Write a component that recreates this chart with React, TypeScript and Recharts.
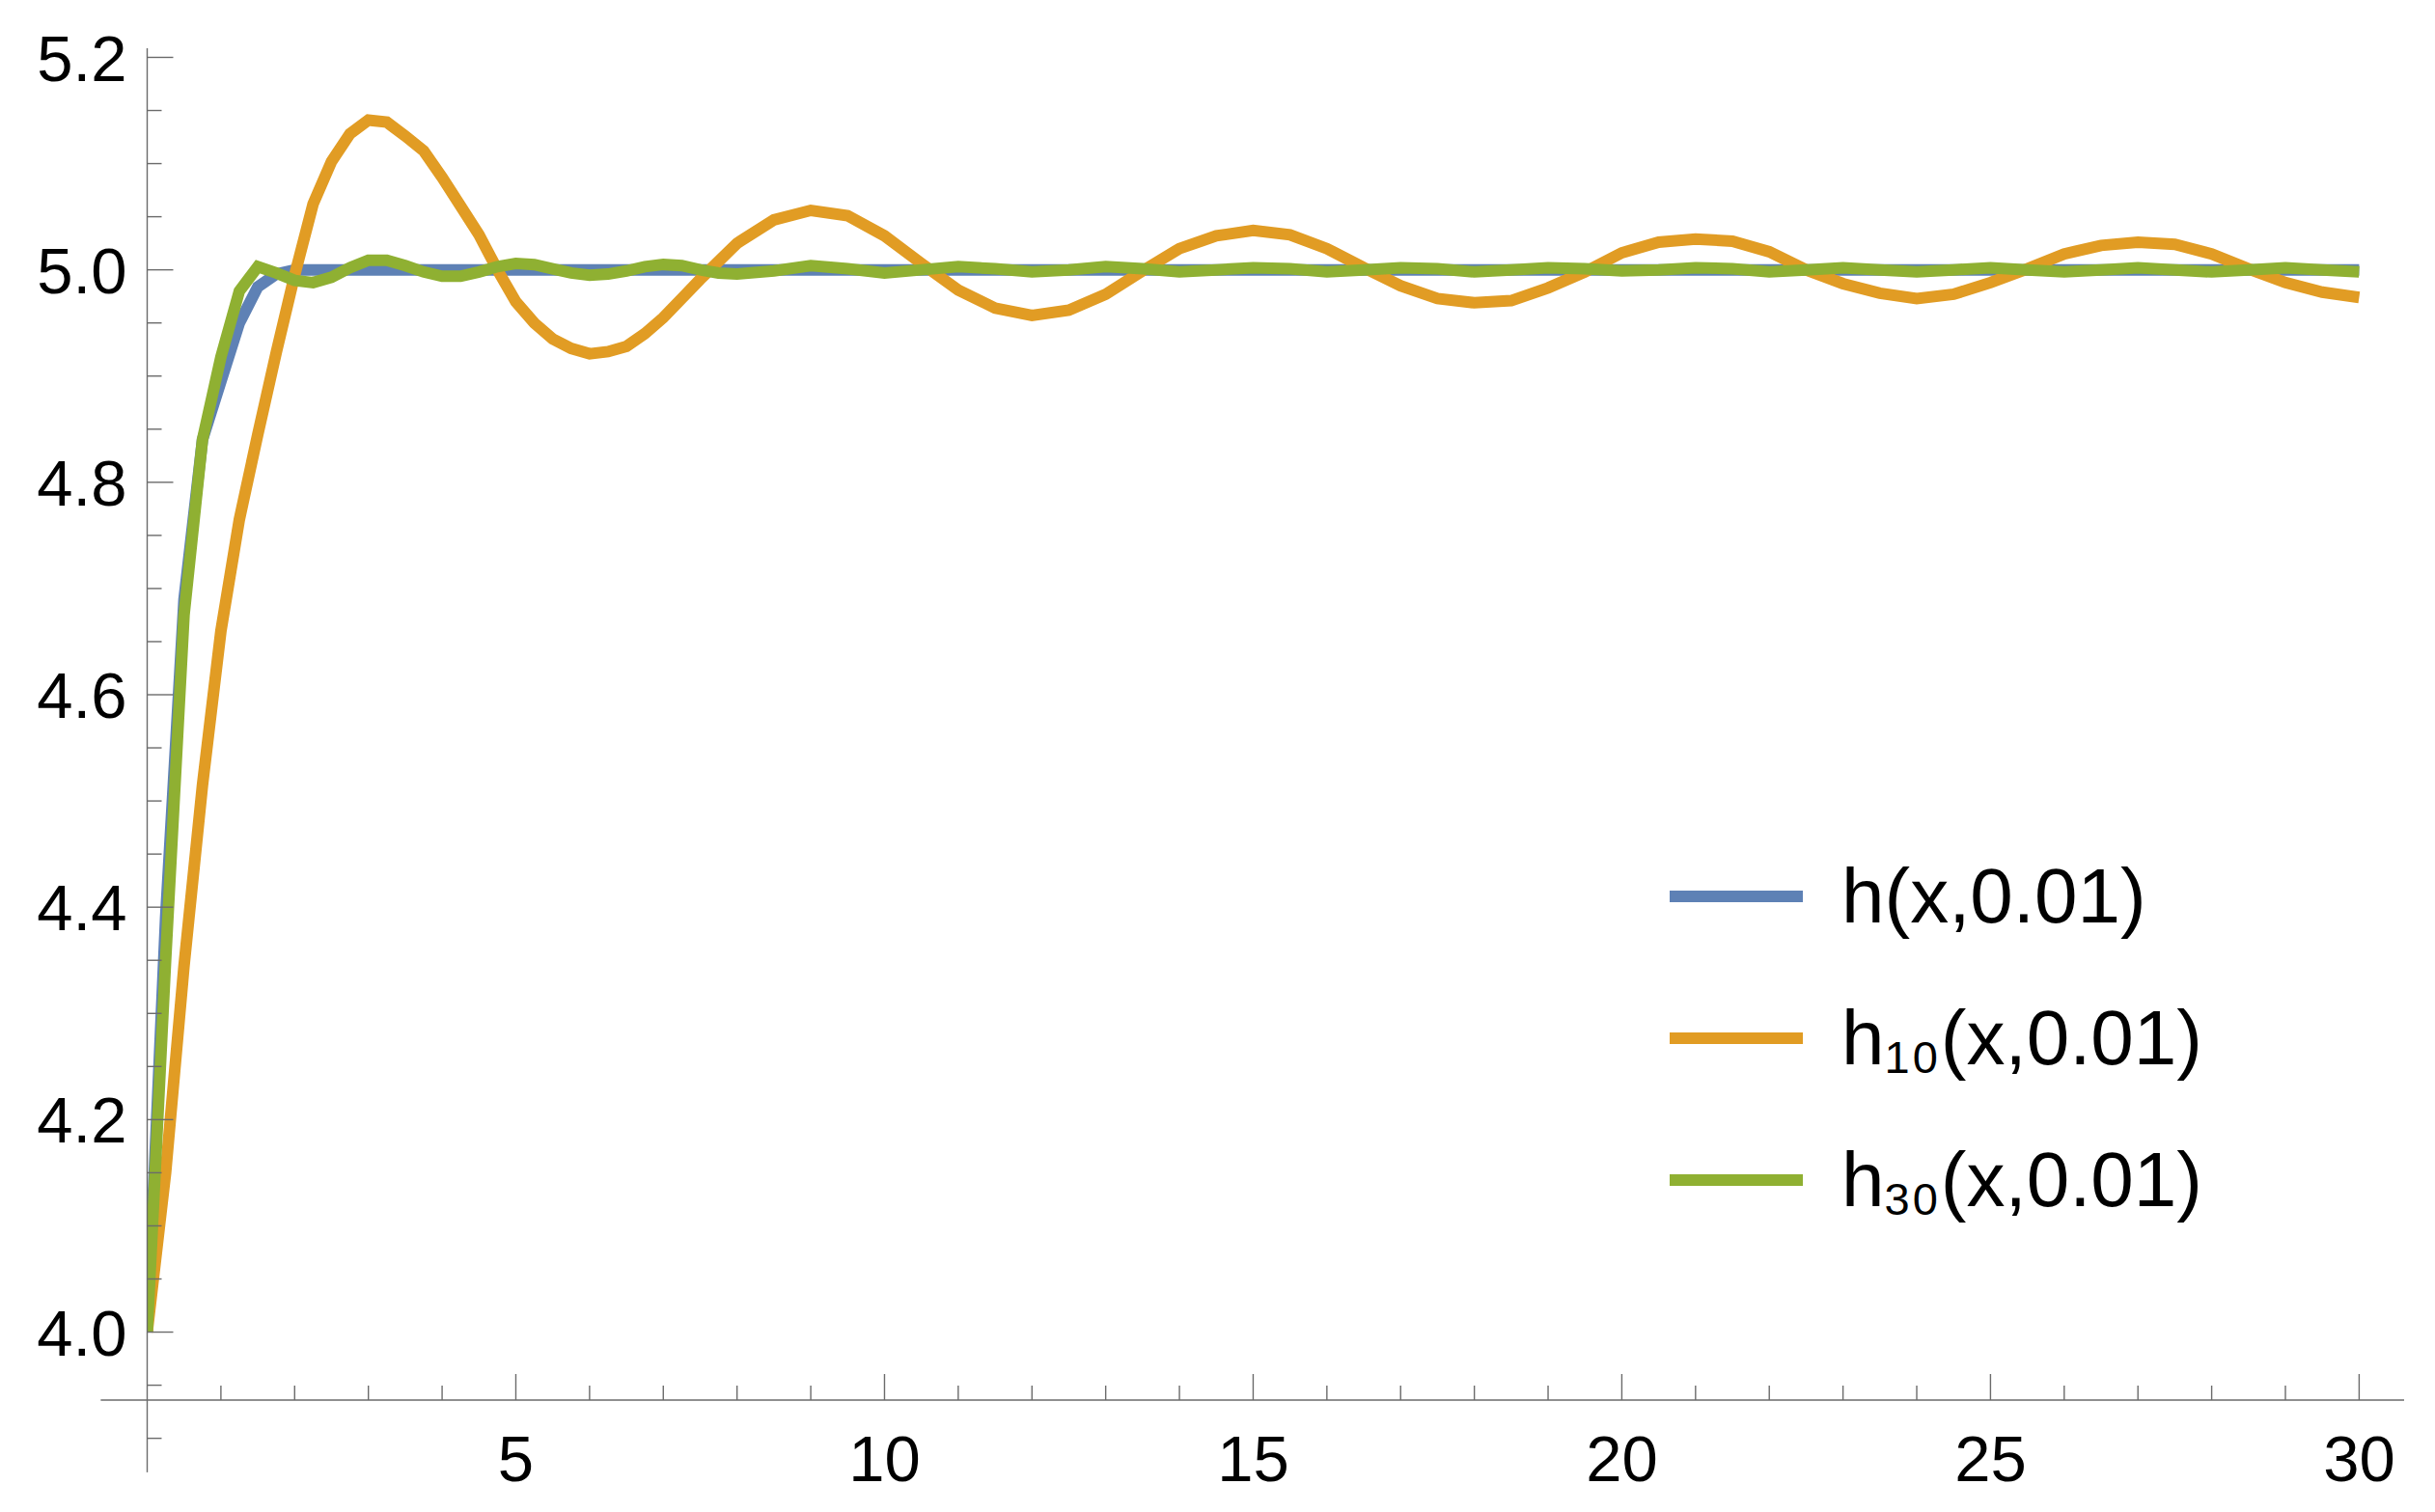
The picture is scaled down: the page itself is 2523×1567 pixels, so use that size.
import React from "react";
import { LineChart, Line, XAxis, YAxis, ReferenceLine, Legend } from "recharts";

const FONT = '"Liberation Sans", Arial, Helvetica, sans-serif';
const AXIS_GRAY = "#6b6b6b";

// h(x,0.01): fast rise, then flat at 5
const hX = [0, 0.25, 0.5, 0.75, 1, 1.25, 1.5, 1.75, 2, 5, 10, 15, 20, 25, 30];
const hY = [4.0, 4.39, 4.69, 4.84, 4.895, 4.95, 4.984, 4.996, 5.0, 5.0, 5.0, 5.0, 5.0, 5.0, 5.0];

// sample grid shared by the two truncated versions
const sampleX = [
  0, 0.25, 0.5, 0.75, 1, 1.25, 1.5, 1.75, 2, 2.25, 2.5, 2.75, 3, 3.25, 3.5, 3.75, 4,
  4.25, 4.5, 4.75, 5, 5.25, 5.5, 5.75, 6, 6.25, 6.5, 6.75, 7, 7.25, 7.5, 7.75, 8,
  8.5, 9, 9.5, 10, 10.5, 11, 11.5, 12, 12.5, 13, 13.5, 14, 14.5, 15, 15.5, 16,
  16.5, 17, 17.5, 18, 18.5, 19, 19.5, 20, 20.5, 21, 21.5, 22, 22.5, 23, 23.5, 24,
  24.5, 25, 25.5, 26, 26.5, 27, 27.5, 28, 28.5, 29, 29.5, 30,
];

// h10(x,0.01)
const h10Y = [
  4.0, 4.15, 4.345, 4.515, 4.66, 4.765, 4.845, 4.922, 4.995, 5.062, 5.102, 5.128, 5.141, 5.139, 5.126, 5.112, 5.087,
  5.06, 5.033, 5.0, 4.97, 4.95, 4.935, 4.926, 4.921, 4.923, 4.928, 4.94, 4.955, 4.973, 4.991, 5.008, 5.025,
  5.047, 5.056, 5.051, 5.032, 5.006, 4.981, 4.964, 4.957, 4.962, 4.977, 4.999, 5.02, 5.032, 5.037, 5.033, 5.02,
  5.002, 4.985, 4.973, 4.969, 4.971, 4.983, 4.998, 5.016, 5.026, 5.029, 5.027, 5.017, 5.0, 4.987, 4.978, 4.973,
  4.977, 4.988, 5.001, 5.015, 5.023, 5.026, 5.024, 5.015, 5.001, 4.988, 4.979, 4.974,
];

// h30(x,0.01)
const h30Y = [
  4.0, 4.35, 4.675, 4.84, 4.918, 4.98, 5.003, 4.997, 4.99, 4.988, 4.993, 5.002, 5.009, 5.009, 5.004, 4.998, 4.994,
  4.994, 4.998, 5.003, 5.006, 5.005, 5.001, 4.997, 4.995, 4.996, 4.999, 5.003, 5.005, 5.004, 5.0, 4.997, 4.996,
  4.999, 5.004, 5.001, 4.997, 5.0, 5.003, 5.001, 4.998, 5.0, 5.003, 5.001, 4.998, 5.0, 5.002, 5.001, 4.998,
  5.0, 5.002, 5.001, 4.998, 5.0, 5.002, 5.001, 4.999, 5.0, 5.002, 5.001, 4.998, 5.0, 5.002, 5.0, 4.998,
  5.0, 5.002, 5.0, 4.998, 5.0, 5.002, 5.0, 4.998, 5.0, 5.002, 5.0, 4.998,
];

const xMajor = [5, 10, 15, 20, 25, 30];
const xMinor = [1, 2, 3, 4, 6, 7, 8, 9, 11, 12, 13, 14, 16, 17, 18, 19, 21, 22, 23, 24, 26, 27, 28, 29];
const yMajor = [4.0, 4.2, 4.4, 4.6, 4.8, 5.0, 5.2];
const yMinor = [
  3.95, 4.05, 4.1, 4.15, 4.25, 4.3, 4.35, 4.45, 4.5, 4.55, 4.65, 4.7, 4.75, 4.85, 4.9, 4.95, 5.05, 5.1, 5.15,
];

// plot range (Mathematica style: axes cross at x=0, y=3.936)
const xRange = [-0.63, 30.61];
const yRange = [3.868, 5.2086];
const axisCrossY = 3.936;

const series = [
  { name: "h(x,0.01)", base: "h", sub: "", color: "#5E81B5", xs: hX, ys: hY },
  { name: "h10(x,0.01)", base: "h", sub: "10", color: "#E19C24", xs: sampleX, ys: h10Y },
  { name: "h30(x,0.01)", base: "h", sub: "30", color: "#8FB032", xs: sampleX, ys: h30Y },
];

const toPoints = (xs: number[], ys: number[]) => xs.map((x, i) => ({ x, y: ys[i] }));

const isMajorY = (v: number) => yMajor.some((m) => Math.abs(m - v) < 1e-6);

function XTick(props: any) {
  const { x, y, payload } = props;
  const major = xMajor.includes(payload.value);
  return (
    <g>
      <line x1={x} x2={x} y1={y} y2={y - (major ? 27 : 15)} stroke={AXIS_GRAY} strokeWidth={1.4} />
      {major && (
        <text x={x} y={y + 84} textAnchor="middle" fontSize={67} fontFamily={FONT} fill="#000">
          {payload.value}
        </text>
      )}
    </g>
  );
}

function YTick(props: any) {
  const { x, y, payload } = props;
  const major = isMajorY(payload.value);
  return (
    <g>
      <line x1={x} x2={x + (major ? 27 : 15)} y1={y} y2={y} stroke={AXIS_GRAY} strokeWidth={1.4} />
      {major && (
        <text x={x - 21} y={y} dy="0.36em" textAnchor="end" fontSize={67} fontFamily={FONT} fill="#000">
          {payload.value.toFixed(1)}
        </text>
      )}
    </g>
  );
}

function LegendBox(props: any) {
  const payload: any[] = props.payload || [];
  return (
    <div style={{ fontFamily: FONT, color: "#000" }}>
      {series.map((s) => {
        const entry = payload.find((p) => p.value === s.name);
        const color = entry ? entry.color : s.color;
        return (
          <div key={s.name} style={{ display: "flex", alignItems: "center", height: 147.3 }}>
            <div style={{ width: 138, height: 12, background: color }} />
            <span style={{ marginLeft: 40, fontSize: 80, lineHeight: 1, whiteSpace: "nowrap" }}>
              {s.base}
              {s.sub && (
                <span style={{ fontSize: 47, position: "relative", top: 9, letterSpacing: 3 }}>{s.sub}</span>
              )}
              (x,0.01)
            </span>
          </div>
        );
      })}
    </div>
  );
}

export default function App() {
  const xTicks = [...xMinor, ...xMajor].sort((a, b) => a - b);
  const yTicks = [...yMinor, ...yMajor].sort((a, b) => a - b);
  return (
    <div style={{ position: "absolute", left: 0, top: 0, width: 2523, height: 1567, background: "#fff" }}>
      <LineChart width={2523} height={1567} margin={{ top: 50, right: 32, bottom: 16, left: 52.5 }}>
        <XAxis
          dataKey="x"
          type="number"
          domain={[0, xRange[1]]}
          ticks={xTicks}
          interval={0}
          height={100}
          tickSize={0}
          tickMargin={0}
          tickLine={false}
          tick={<XTick />}
          axisLine={{ stroke: AXIS_GRAY, strokeWidth: 1.4 }}
          allowDataOverflow
        />
        <YAxis
          type="number"
          domain={[axisCrossY, yRange[1]]}
          ticks={yTicks}
          interval={0}
          width={100}
          tickSize={0}
          tickMargin={0}
          tickLine={false}
          tick={<YTick />}
          axisLine={{ stroke: AXIS_GRAY, strokeWidth: 1.4 }}
          allowDataOverflow
        />
        {/* axis stubs past the crossing point */}
        <ReferenceLine
          segment={[{ x: xRange[0], y: axisCrossY }, { x: 0, y: axisCrossY }]}
          ifOverflow="visible"
          stroke={AXIS_GRAY}
          strokeWidth={1.4}
        />
        <ReferenceLine
          segment={[{ x: 0, y: yRange[0] }, { x: 0, y: axisCrossY }]}
          ifOverflow="visible"
          stroke={AXIS_GRAY}
          strokeWidth={1.4}
        />
        <ReferenceLine
          segment={[{ x: 0, y: 3.9 }, { x: 0.196, y: 3.9 }]}
          ifOverflow="visible"
          stroke={AXIS_GRAY}
          strokeWidth={1.4}
        />
        {series.map((s) => (
          <Line
            key={s.name}
            name={s.name}
            data={toPoints(s.xs, s.ys)}
            dataKey="y"
            type="linear"
            stroke={s.color}
            strokeWidth={12}
            dot={false}
            activeDot={false}
            isAnimationActive={false}
          />
        ))}
        <Legend
          layout="vertical"
          align="center"
          verticalAlign="middle"
          content={<LegendBox />}
          wrapperStyle={{ left: 1730, top: 855, width: 700 }}
        />
      </LineChart>
    </div>
  );
}
